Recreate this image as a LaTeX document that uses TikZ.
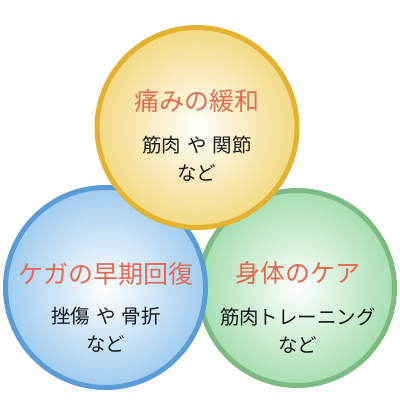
\documentclass[tikz,border=0pt]{standalone}
\usepackage{fontspec}
\setmainfont{Noto Sans CJK JP}
\newcommand{\jsp}{\hspace{0.3em}}
\begin{document}
\begin{tikzpicture}[x=1pt,y=1pt,
  bubble/.style={circle, inner sep=0pt, line width=5pt, shading=radial, inner color=white},
  ttl/.style={font=\fontsize{25}{28}\selectfont, text=titlered, inner sep=0pt},
  body/.style={font=\fontsize{19.5}{28}\selectfont, text=black!90, align=center, inner sep=0pt}]
\definecolor{titlered}{HTML}{E36A52}
\definecolor{ystroke}{HTML}{E2B230}
\definecolor{yfill}{HTML}{F2D982}
\definecolor{bstroke}{HTML}{5B9BD6}
\definecolor{bfill}{HTML}{9FCBEE}
\definecolor{gstroke}{HTML}{7DBA83}
\definecolor{gfill}{HTML}{A6DDB0}
\useasboundingbox (0,0) rectangle (400,400);
\node[bubble, minimum size=195pt, draw=gstroke, outer color=gfill] (green) at (297,112) {};
\node[bubble, minimum size=200pt, draw=bstroke, outer color=bfill] (blue) at (105.5,112.5) {};
\node[bubble, minimum size=200pt, draw=ystroke, outer color=yfill] (yellow) at (197,272.5) {};
\node[ttl] (yt) at (197,299) {痛みの緩和};
\node[body] (yb) at (197,241.5) {筋肉\jsp や\jsp 関節\\など};
\node[ttl] (bt) at (106,126) {ケガの早期回復};
\node[body] (bb) at (106,70) {挫傷\jsp や\jsp 骨折\\など};
\node[ttl] (gt) at (298,127) {身体のケア};
\node[body] (gb) at (298,69.5) {筋肉トレーニング\\など};
\end{tikzpicture}
\end{document}
